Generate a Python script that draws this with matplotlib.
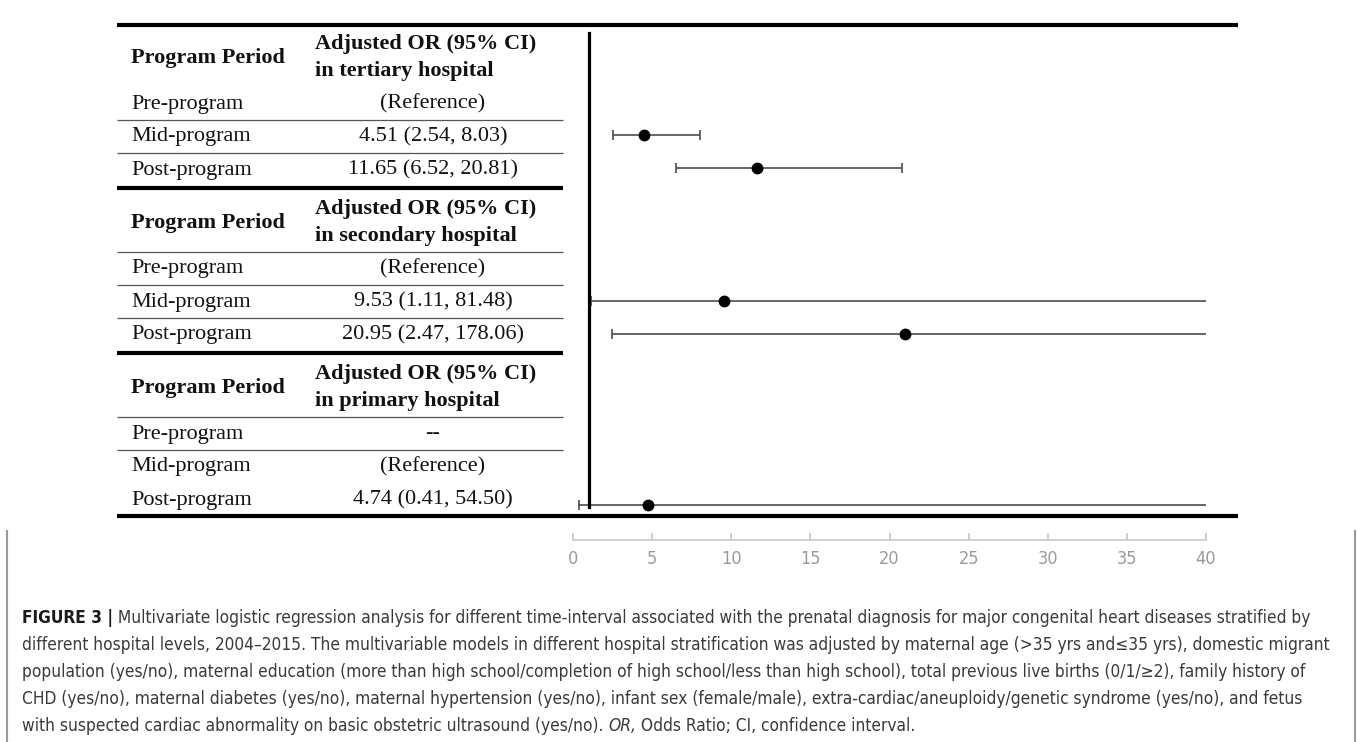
import matplotlib
matplotlib.use("Agg")
import matplotlib.pyplot as plt
from matplotlib import font_manager
import numpy as np

# ---- data ----------------------------------------------------------
periods = ["Pre-program", "Mid-program", "Post-program"]
hospitals = ["tertiary", "secondary", "primary"]
or_text = [
    ["(Reference)", "4.51 (2.54, 8.03)", "11.65 (6.52, 20.81)"],
    ["(Reference)", "9.53 (1.11, 81.48)", "20.95 (2.47, 178.06)"],
    ["--", "(Reference)", "4.74 (0.41, 54.50)"],
]
# estimates plotted: (block, row, OR, lower, upper)
est_block = [0, 0, 1, 1, 2]
est_row = [1, 2, 1, 2, 2]
est_or = [4.51, 11.65, 9.53, 20.95, 4.74]
est_lo = [2.54, 6.52, 1.11, 2.47, 0.41]
est_hi = [8.03, 20.81, 81.48, 178.06, 54.50]
xticks = [0, 5, 10, 15, 20, 25, 30, 35, 40]

caption = [
    [("FIGURE 3 |", "bold", "normal"),
     (" Multivariate logistic regression analysis for different time-interval associated with the prenatal "
      "diagnosis for major congenital heart diseases stratified by", "normal", "normal")],
    [("different hospital levels, 2004\u20132015. The multivariable models in different hospital stratification "
      "was adjusted by maternal age (>35 yrs and\u226435 yrs), domestic migrant", "normal", "normal")],
    [("population (yes/no), maternal education (more than high school/completion of high school/less than "
      "high school), total previous live births (0/1/\u22652), family history of", "normal", "normal")],
    [("CHD (yes/no), maternal diabetes (yes/no), maternal hypertension (yes/no), infant sex (female/male), "
      "extra-cardiac/aneuploidy/genetic syndrome (yes/no), and fetus", "normal", "normal")],
    [("with suspected cardiac abnormality on basic obstetric ultrasound (yes/no). ", "normal", "normal"),
     ("OR,", "normal", "italic"),
     (" Odds Ratio; CI, confidence interval.", "normal", "normal")],
]

# ---- fonts ------------------------------------------------------------
names = {f.name for f in font_manager.fontManager.ttflist}
condensed = [f for f in font_manager.fontManager.ttflist
             if f.name == "DejaVu Sans" and "condensed" in str(f.stretch)]
if "Liberation Sans Narrow" in names:
    cap_font = dict(family=["Liberation Sans Narrow", "DejaVu Sans"])
elif condensed:
    cap_font = dict(family=["DejaVu Sans"], stretch="condensed")
else:
    cap_font = dict(family=["Liberation Sans", "DejaVu Sans"])

# ---- layout (pixels) ------------------------------------------------
W, H = 1357, 742
block_step = 165
row_y0 = 104
row_step = 33
col1_x, col2_x, head2_x = 131, 433, 315
tab_left, tab_right, full_right = 117, 563, 1238
serif = "Liberation Serif"

fig = plt.figure(figsize=(W / 100, H / 100), dpi=100)
ax0 = fig.add_axes([0, 0, 1, 1])
ax0.set_xlim(0, W)
ax0.set_ylim(H, 0)
ax0.axis("off")

ink = "#111111"
for b, hosp in enumerate(hospitals):
    off = b * block_step
    ax0.text(col1_x, 58 + off, "Program Period", family=serif, weight="bold",
             fontsize=16, va="center", color=ink)
    ax0.text(head2_x, 44 + off, "Adjusted OR (95% CI)", family=serif, weight="bold",
             fontsize=16, va="center", color=ink)
    ax0.text(head2_x, 71 + off, f"in {hosp} hospital", family=serif, weight="bold",
             fontsize=16, va="center", color=ink)
    for r, p in enumerate(periods):
        y = row_y0 + r * row_step + off
        ax0.text(col1_x, y, p, family=serif, fontsize=16, va="center", color=ink)
        ax0.text(col2_x, y, or_text[b][r], family=serif, fontsize=16, va="center",
                 ha="center", color=ink)
    # thin rules
    thin = []
    if b > 0:
        thin.append(87 + off)
    thin.append(120 + off)
    if b < 2:
        thin.append(153 + off)
    ax0.hlines(thin, tab_left, tab_right, color="#555555", lw=0.9)

# thick rules
ax0.hlines([25, 516], tab_left, full_right, color="black", lw=3)
ax0.hlines([188, 353], tab_left, tab_right, color="black", lw=3)

# caption box borders
ax0.vlines([7, 1355], 530, H, color="#9a9a9a", lw=1.5)

# ---- forest plot ----------------------------------------------------
x0_px, x40_px, top_px, axis_px = 573, 1206, 20, 540
ax = fig.add_axes([x0_px / W, (H - axis_px) / H, (x40_px - x0_px) / W,
                   (axis_px - top_px) / H])
ax.set_facecolor("none")
ax.set_xlim(0, 40)
ax.set_ylim(axis_px, top_px)

ey = [row_y0 - 2 + r * row_step + b * (block_step + 1) + (5 if b == 2 else 0)
      for b, r in zip(est_block, est_row)]
est_or = np.array(est_or)
err = [est_or - np.array(est_lo), np.array(est_hi) - est_or]
ax.errorbar(est_or, ey, xerr=err, fmt="none", ecolor="#4d4d4d", elinewidth=1.2,
            capsize=3.6, capthick=1.2)
ax.plot(est_or, ey, "o", color="black", ms=7.5)
ax.plot([1, 1], [33, 507], color="black", lw=2.3)

for s in ["top", "left", "right"]:
    ax.spines[s].set_visible(False)
ax.spines["bottom"].set_color("#c8c8c8")
ax.spines["bottom"].set_linewidth(1.2)
ax.set_yticks([])
ax.set_xticks(xticks)
ax.tick_params(axis="x", direction="in", length=5, color="#c8c8c8", width=1.2,
               labelcolor="#9a9a9a", labelsize=13, pad=7)
for lab in ax.get_xticklabels():
    lab.set_fontproperties(font_manager.FontProperties(size=13, **cap_font))

# ---- caption --------------------------------------------------------
cap_x, cap_y0, cap_step = 22, 618, 27
target_w = 1330 - cap_x
renderer = fig.canvas.get_renderer()


def line_width(segs, size):
    w = 0
    for txt, wt, st in segs:
        t = ax0.text(0, 0, txt, weight=wt, style=st, fontsize=size, **cap_font)
        w += t.get_window_extent(renderer).width
        t.remove()
    return w


base = 12
cap_size = base * target_w / line_width(caption[1], base)

for i, segs in enumerate(caption):
    x = cap_x
    y = cap_y0 + i * cap_step
    for txt, wt, st in segs:
        col = "#1a1a1a" if wt == "bold" else "#3a3a3a"
        t = ax0.text(x, y, txt, weight=wt, style=st, fontsize=cap_size,
                     va="center", color=col, **cap_font)
        x += t.get_window_extent(renderer).width

fig.savefig("out.png", dpi=100)
